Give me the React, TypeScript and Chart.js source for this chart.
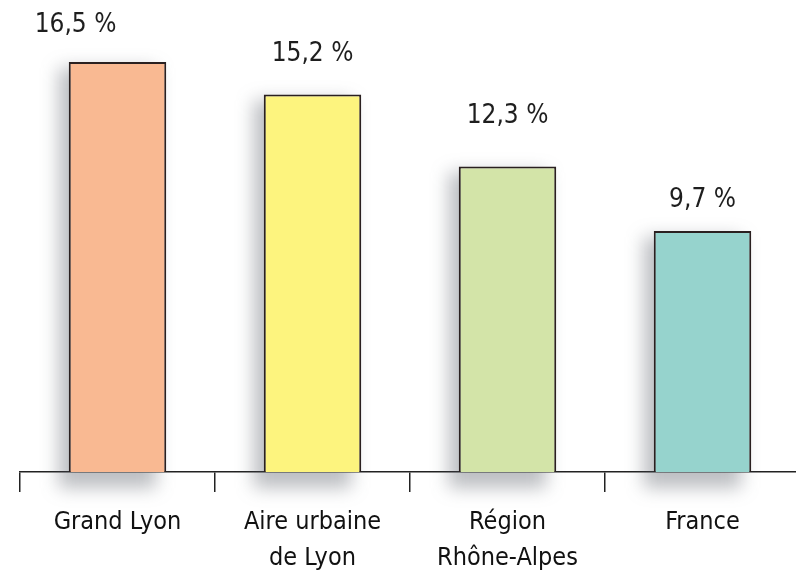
import React, { useEffect, useRef } from "react";
import { Chart, registerables } from "chart.js";

Chart.register(...registerables);

const categories: string[][] = [["Grand Lyon"], ["Aire urbaine", "de Lyon"], ["Région", "Rhône-Alpes"], ["France"]];
const values: number[] = [16.5, 15.2, 12.3, 9.7];
const valueLabels: string[] = ["16,5 %", "15,2 %", "12,3 %", "9,7 %"];
const barColors: string[] = ["#F9B992", "#FDF47E", "#D3E4A8", "#96D3CD"];

const FONT = "'DejaVu Sans Condensed', 'Liberation Sans Narrow', 'Liberation Sans', sans-serif";

const shadowPlugin = {
  id: "barShadow",
  beforeDatasetsDraw(chart: any) {
    const ctx = chart.ctx;
    const meta = chart.getDatasetMeta(0);
    ctx.save();
    ctx.filter = "blur(9px)";
    ctx.fillStyle = "rgba(80,85,95,0.38)";
    meta.data.forEach((bar: any) => {
      const w = bar.width;
      const left = bar.x - w / 2;
      ctx.fillRect(left - 10, bar.y + 6, w, bar.base - bar.y + 10);
    });
    ctx.restore();
  },
};

const labelOffsets = [-42, 0, 0, 0];
const labelGaps = [37, 40, 50, 31];

const valueLabelPlugin = {
  id: "valueLabels",
  afterDatasetsDraw(chart: any) {
    const ctx = chart.ctx;
    const meta = chart.getDatasetMeta(0);
    ctx.save();
    ctx.fillStyle = "#1e1e1e";
    ctx.font = `26px ${FONT}`;
    ctx.textAlign = "center";
    ctx.textBaseline = "middle";
    meta.data.forEach((bar: any, i: number) => {
      ctx.fillText(valueLabels[i], bar.x + labelOffsets[i], bar.y - labelGaps[i]);
    });
    ctx.restore();
  },
};

export default function App() {
  const ref = useRef<HTMLCanvasElement | null>(null);
  useEffect(() => {
    if (!ref.current) return;
    const chart = new Chart(ref.current, {
      type: "bar",
      data: {
        labels: categories,
        datasets: [
          {
            data: values,
            backgroundColor: barColors,
            borderColor: "#2a2020",
            borderWidth: 2,
            borderSkipped: "bottom",
            barPercentage: 0.5,
            categoryPercentage: 1,
          },
        ],
      },
      options: {
        animation: false,
        responsive: false,
        devicePixelRatio: 1,
        layout: { padding: { left: 20, right: 0, top: 0, bottom: 0 } },
        plugins: { legend: { display: false }, tooltip: { enabled: false } },
        scales: {
          x: {
            offset: true,
            grid: {
              offset: true,
              drawOnChartArea: false,
              drawTicks: true,
              tickLength: 20,
              color: "#222",
              lineWidth: 1.5,
            },
            border: { display: true, color: "#222", width: 1.5 },
            ticks: {
              color: "#111",
              font: { family: FONT, size: 25, lineHeight: 1.45 },
              padding: 12,
              maxRotation: 0,
              autoSkip: false,
            },
            afterFit: (scale: any) => {
              scale.height = 103;
            },
          },
          y: {
            display: false,
            min: 0,
            max: 19,
          },
        },
      },
      plugins: [shadowPlugin, valueLabelPlugin],
    });
    return () => chart.destroy();
  }, []);
  return (
    <div style={{ position: "fixed", left: 0, top: 0, width: 800, height: 575, background: "#fff" }}>
      <canvas ref={ref} width={800} height={575} style={{ width: 800, height: 575, display: "block" }} />
    </div>
  );
}
